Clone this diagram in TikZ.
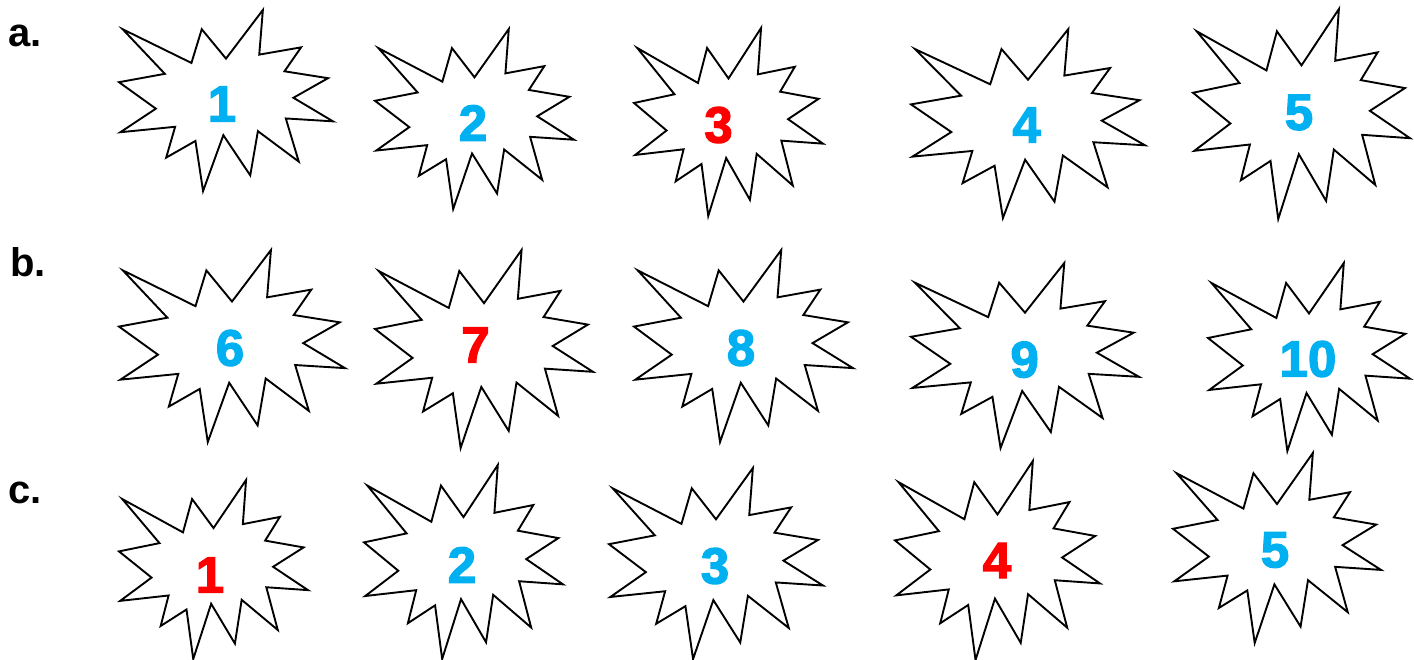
\documentclass[tikz,border=0pt]{standalone}
\usepackage{fontspec}
\setmainfont{Liberation Sans}
\newfontfamily\numfont[FakeBold=2.5]{Liberation Sans Bold}
\definecolor{numblue}{RGB}{0,176,240}
\definecolor{numred}{RGB}{255,0,0}
\tikzset{
  burstline/.style={draw=black, line width=1.9pt, line join=miter, fill=white},
  numlabel/.style={inner sep=0pt, font=\numfont\fontsize{51}{60}\selectfont},
  rowlabel/.style={inner sep=0pt, anchor=base west, font=\fontsize{40}{48}\selectfont\bfseries}
}
% #1 name, #2 x0, #3 y0, #4 x1, #5 y1, #6 text x, #7 text y, #8 colour, #9 text
\newcommand{\burst}[9]{%
  \pgfmathsetmacro\burstxu{(#4-#2)/216}%
  \pgfmathsetmacro\burstyu{(#5-#3)/216}%
  \begin{scope}[shift={(#2,#3)}, x=\burstxu pt, y=-\burstyu pt]
    \draw[burstline] (108,58) -- (145.22,0) -- (141.55,53.25) -- (183.80,44.57)
      -- (167.02,73.15) -- (210.97,81.37) -- (176.07,104.75) -- (216,132.90)
      -- (168.37,129.42) -- (181.45,180.95) -- (140.20,144.57) -- (132.47,197.37)
      -- (105.32,149.35) -- (84.85,216) -- (77.15,156.27) -- (47.62,176.17)
      -- (56.67,139.37) -- (1.35,145.87) -- (37.22,117.75) -- (0,86.15)
      -- (46.27,76.17) -- (3.70,22.95) -- (73.12,63.20) -- (83.52,22.95) -- cycle;
  \end{scope}
  \node[numlabel, text=#8] (#1) at (#6,#7) {#9};%
}
\begin{document}
\begin{tikzpicture}[x=1pt, y=-1pt]
\useasboundingbox[fill=white] (0,0) rectangle (1414,660);

\node[rowlabel] (la) at (8,46.7) {a.};
\node[rowlabel] (lb) at (10,276.7) {b.};
\node[rowlabel] (lc) at (8,503.3) {c.};

\burst{a1}{119}{10}{333}{191}{222}{104}{numblue}{1}
\burst{a2}{375}{29}{574}{209}{473}{123}{numblue}{2}
\burst{a3}{634}{28}{823}{216}{718.5}{125}{numred}{3}
\burst{a4}{911}{29}{1145}{218}{1026.6}{125}{numblue}{4}
\burst{a5}{1193}{9}{1410}{219}{1299}{112.5}{numblue}{5}

\burst{b6}{119}{250}{345}{442}{230}{348}{numblue}{6}
\burst{b7}{375}{250}{593}{448}{475.5}{345}{numred}{7}
\burst{b8}{634}{250}{853}{442}{741}{348}{numblue}{8}
\burst{b9}{911}{263}{1139}{448}{1024.6}{359.7}{numblue}{9}
\burst{b10}{1208}{263}{1410}{451}{1308}{359}{numblue}{10}

\burst{c1}{119}{480}{308}{659}{210}{575}{numred}{1}
\burst{c2}{364}{465}{563}{659}{462}{565}{numblue}{2}
\burst{c3}{609}{468}{823}{659}{715}{566}{numblue}{3}
\burst{c4}{895}{461}{1100}{660}{997}{560.5}{numred}{4}
\burst{c5}{1173}{453}{1381}{643}{1275}{550}{numblue}{5}
\end{tikzpicture}
\end{document}
